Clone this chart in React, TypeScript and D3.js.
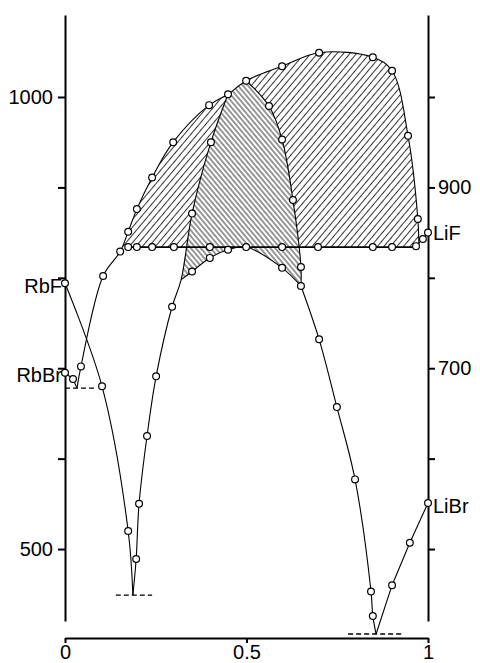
import { useEffect, useRef } from "react";
import * as d3 from "d3";

const W = 480, H = 663;
const FONT = "'Liberation Sans', Arial, Helvetica, sans-serif";

// mole fraction (0 = Rb side, 1 = Li side) vs temperature
const rbfLiquidus = [[0, 794], [0.102, 680], [0.174, 520], [0.187, 449]];
const rbbrEutectic = [[0, 695], [0.022, 688], [0.033, 678]];
const outerDome = [
  [0.033, 678], [0.044, 702], [0.105, 802], [0.152, 829], [0.174, 851], [0.198, 876],
  [0.240, 911], [0.298, 950], [0.397, 991], [0.449, 1003], [0.499, 1018], [0.598, 1034],
  [0.700, 1049], [0.848, 1044], [0.901, 1029], [0.945, 957], [0.972, 865], [0.975, 834],
];
const midLeft = [
  [0.187, 449], [0.196, 489], [0.204, 550], [0.226, 625], [0.251, 691], [0.295, 768],
  [0.320, 798], [0.350, 871], [0.402, 950], [0.449, 1003],
];
const lowerArc = [[0.320, 798], [0.350, 807], [0.399, 822], [0.449, 831], [0.499, 834], [0.598, 811], [0.650, 791]];
const innerRight = [[0.499, 1018], [0.562, 990], [0.598, 953], [0.628, 886], [0.650, 812], [0.650, 791]];
const rightLiquidus = [[0.650, 791], [0.700, 732], [0.749, 657], [0.799, 577], [0.843, 453], [0.848, 426], [0.857, 406]];
const librLiquidus = [[0.857, 406], [0.901, 460], [0.950, 507], [1, 551]];
const lifLiquidus = [[1, 850], [0.986, 843], [0.967, 835]];
const plateau = [[0.168, 834], [0.975, 834]];
const eutecticDashes = [
  [[0, 678], [0.088, 678]],
  [[0.140, 449], [0.240, 449]],
  [[0.780, 406], [0.928, 406]],
];

// measured points (open circles)
const points = [
  [0, 794], [0.102, 680], [0.174, 520],
  [0, 695], [0.022, 688],
  [0.044, 702], [0.105, 802], [0.152, 829], [0.174, 851], [0.198, 876], [0.240, 911], [0.298, 950],
  [0.397, 991], [0.449, 1003], [0.499, 1018], [0.598, 1034], [0.700, 1049], [0.848, 1044],
  [0.901, 1029], [0.945, 957], [0.972, 865],
  [0.174, 834], [0.198, 834], [0.240, 834], [0.300, 834], [0.399, 834], [0.499, 834], [0.598, 834],
  [0.697, 834], [0.848, 834], [0.901, 834], [0.967, 835],
  [0.986, 843], [1, 850],
  [0.196, 489], [0.204, 550], [0.226, 625], [0.251, 691], [0.295, 768], [0.350, 871], [0.402, 950],
  [0.350, 807], [0.399, 822], [0.449, 831], [0.598, 811], [0.650, 791],
  [0.562, 990], [0.598, 953], [0.628, 886], [0.650, 812],
  [0.700, 732], [0.749, 657], [0.799, 577], [0.843, 453], [0.848, 426],
  [0.901, 460], [0.950, 507], [1, 551],
];

const compoundLabels = [
  { name: "RbF", x: 0, t: 794, side: "left", dy: 10 },
  { name: "RbBr", x: 0, t: 695, side: "left", dy: 9 },
  { name: "LiF", x: 1, t: 850, side: "right", dy: 7 },
  { name: "LiBr", x: 1, t: 551, side: "right", dy: 10 },
];

const tempTicks = [500, 600, 700, 800, 900, 1000];
const leftLabels = [1000, 500];
const rightLabels = [900, 700];
const xTicks = [0, 0.5, 1];

export default function App() {
  const svgRef = useRef(null);

  useEffect(() => {
    const svg = d3.select(svgRef.current);
    svg.selectAll("*").remove();

    const x = d3.scaleLinear().domain([0, 1]).range([65, 428]);
    const y = d3.scaleLinear().domain([420.4, 1090.7]).range([621, 15]);

    const curved = d3.line().x(d => x(d[0])).y(d => y(d[1])).curve(d3.curveCatmullRom.alpha(0.5));
    const straight = d3.line().x(d => x(d[0])).y(d => y(d[1]));

    const defs = svg.append("defs");
    const hatch = (id, angle, gap) => {
      defs.append("pattern").attr("id", id).attr("patternUnits", "userSpaceOnUse")
        .attr("width", gap).attr("height", gap).attr("patternTransform", `rotate(${angle})`)
        .append("line").attr("x1", gap / 2).attr("x2", gap / 2).attr("y1", 0).attr("y2", gap)
        .attr("stroke", "#000").attr("stroke-width", 0.8);
    };
    hatch("hatch-fwd", 40, 5);
    hatch("hatch-back", -40, 3.8);

    defs.append("clipPath").attr("id", "above-plateau")
      .append("rect").attr("x", 0).attr("y", 0).attr("width", W).attr("height", y(834));

    // forward hatch: dome above the plateau
    svg.append("path")
      .attr("d", curved(outerDome) + `L${x(0.975)},${y(834)}L${x(0.033)},${y(834)}Z`)
      .attr("fill", "url(#hatch-fwd)").attr("clip-path", "url(#above-plateau)");

    // back hatch: middle compound field
    const toL = s => "L" + s.slice(1);
    const midPath = curved(midLeft.slice(6)) + toL(curved(innerRight)) + toL(curved(lowerArc.slice().reverse())) + "Z";
    svg.append("path").attr("d", midPath).attr("fill", "#fff");
    svg.append("path").attr("d", midPath).attr("fill", "url(#hatch-back)");

    const g = svg.append("g").attr("fill", "none").attr("stroke", "#000");
    [rbfLiquidus, outerDome, midLeft, lowerArc, innerRight, rightLiquidus].forEach(p =>
      g.append("path").attr("d", curved(p)).attr("stroke-width", 1.1));
    [rbbrEutectic, librLiquidus, lifLiquidus].forEach(p =>
      g.append("path").attr("d", straight(p)).attr("stroke-width", 1.1));
    g.append("path").attr("d", straight(plateau)).attr("stroke-width", 1.7);
    eutecticDashes.forEach(p =>
      g.append("path").attr("d", straight(p)).attr("stroke-width", 1.3).attr("stroke-dasharray", "5,3"));

    // axes
    const styleAxis = ax => ax
      .attr("font-size", 20).attr("font-family", FONT)
      .call(a => a.select(".domain").attr("stroke-width", 2))
      .call(a => a.selectAll(".tick line").attr("stroke-width", 2))
      .call(a => a.selectAll("text").attr("fill", "#000"));

    svg.append("g").attr("transform", "translate(65,0)")
      .call(d3.axisLeft(y).tickValues(tempTicks).tickSize(7).tickSizeOuter(0).tickPadding(5)
        .tickFormat(d => leftLabels.includes(d) ? String(d) : ""))
      .call(styleAxis);
    svg.append("g").attr("transform", "translate(428,0)")
      .call(d3.axisRight(y).tickValues(tempTicks).tickSize(7).tickSizeOuter(0).tickPadding(3)
        .tickFormat(d => rightLabels.includes(d) ? String(d) : ""))
      .call(styleAxis);
    svg.append("g").attr("transform", "translate(0,638)")
      .call(d3.axisBottom(x).tickValues(xTicks).tickSize(5).tickSizeOuter(0).tickPadding(2)
        .tickFormat(d => String(d)))
      .call(styleAxis);

    // data points
    svg.append("g").selectAll("circle").data(points).join("circle")
      .attr("cx", d => x(d[0])).attr("cy", d => y(d[1])).attr("r", 3.4)
      .attr("fill", "#fff").attr("stroke", "#000").attr("stroke-width", 1.2);

    // compound labels
    svg.append("g").selectAll("text").data(compoundLabels).join("text")
      .attr("x", d => d.side === "left" ? x(d.x) - 3 : x(d.x) + 5)
      .attr("y", d => y(d.t) + d.dy)
      .attr("text-anchor", d => d.side === "left" ? "end" : "start")
      .attr("font-size", 20).attr("font-family", FONT).attr("fill", "#000")
      .text(d => d.name);
  }, []);

  return (
    <svg ref={svgRef} width={W} height={H}
      style={{ position: "absolute", left: 0, top: 0, display: "block", background: "#fff" }} />
  );
}
